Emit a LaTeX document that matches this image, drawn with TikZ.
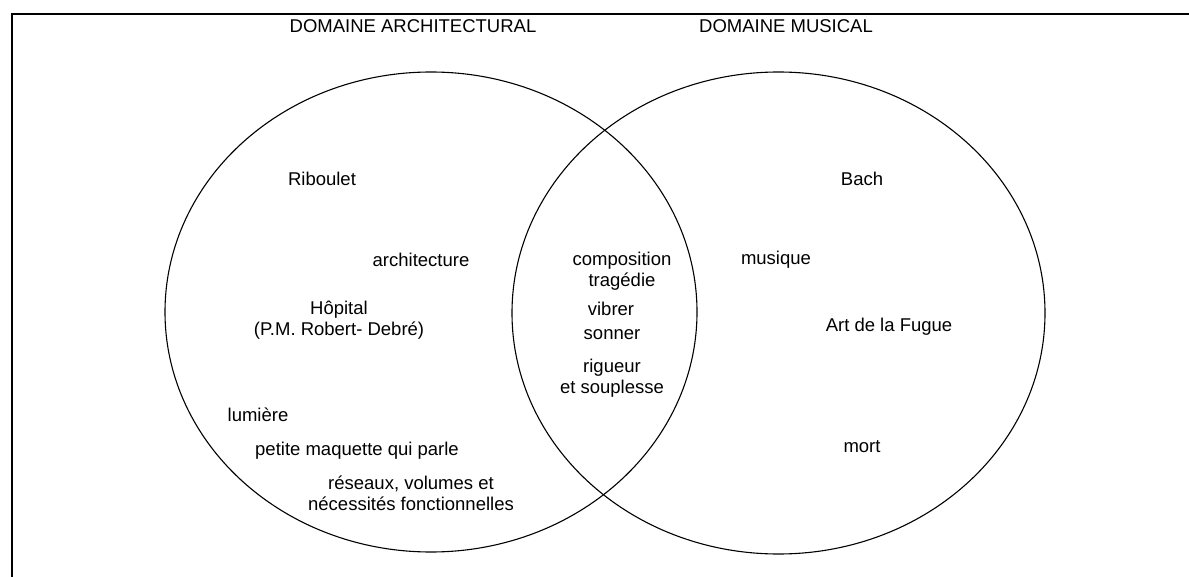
\documentclass[tikz,border=0pt]{standalone}
\usepackage{fontspec}
\setmainfont{Liberation Sans}
\begin{document}
\begin{tikzpicture}[x=1pt,y=-1pt,
  lbl/.style={inner sep=0pt,align=center,font=\fontsize{18.5}{21}\selectfont},
  ring/.style={draw=black,line width=1.1pt},
  frame/.style={draw=black,line width=2pt}]
\useasboundingbox (0,0) rectangle (1189,577);
\draw[frame] (1189,14) -- (11.5,14) -- (11.5,577);
\draw[ring] (431,312) ellipse [x radius=266pt, y radius=240pt];
\draw[ring] (778.5,313) ellipse [x radius=266.5pt, y radius=241pt];
\node[lbl] (t1) at (413,26) {DOMAINE ARCHITECTURAL};
\node[lbl] (t2) at (786,26) {DOMAINE MUSICAL};
\node[lbl] (rib) at (322,179) {Riboulet};
\node[lbl] (arc) at (421,260) {architecture};
\node[lbl] (hop) at (339,320) {Hôpital\\(P.M. Robert- Debré)};
\node[lbl] (lum) at (258,415) {lumière};
\node[lbl] (maq) at (357,451) {petite maquette qui parle};
\node[lbl] (res) at (411,493) {réseaux, volumes et\\nécessités fonctionnelles};
\node[lbl] (com) at (622,271) {composition\\tragédie};
\node[lbl] (vib) at (611,309) {vibrer};
\node[lbl] (son) at (612,335) {sonner};
\node[lbl] (rig) at (612,378) {rigueur\\et souplesse};
\node[lbl] (bach) at (862,179) {Bach};
\node[lbl] (mus) at (776,260) {musique};
\node[lbl] (art) at (889,327) {Art de la Fugue};
\node[lbl] (mort) at (862,447) {mort};
\end{tikzpicture}
\end{document}
